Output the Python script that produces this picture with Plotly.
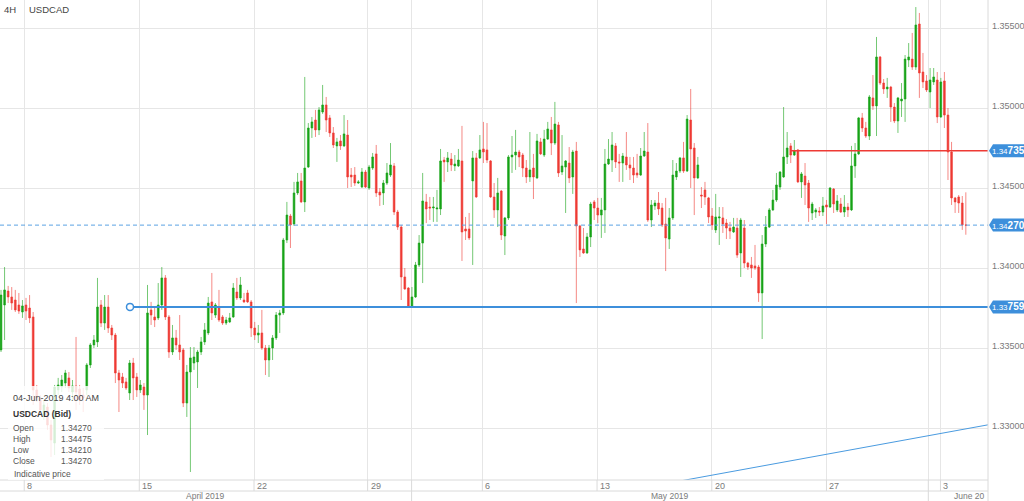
import plotly.graph_objects as go

# %%
# USDCAD 4H candles, 5 Apr - 4 Jun 2019
open_ = [
    1.33490, 1.33771, 1.33858, 1.33821, 1.33802, 1.33771, 1.33727, 1.33771, 1.33752, 1.33696,
    1.33240, 1.33190, 1.33083, 1.33133, 1.33021, 1.32908, 1.33240, 1.33258, 1.33283, 1.33315,
    1.33227, 1.33265, 1.33246, 1.33208, 1.33240, 1.33396, 1.33521, 1.33540, 1.33771, 1.33658,
    1.33758, 1.33627, 1.33583, 1.33346, 1.33321, 1.33290, 1.33221, 1.33408, 1.33321, 1.33240,
    1.33258, 1.33208, 1.33740, 1.33696, 1.33690, 1.33771, 1.33940, 1.33696, 1.33477, 1.33565,
    1.33521, 1.33490, 1.33158, 1.33352, 1.33408, 1.33415, 1.33477, 1.33540, 1.33596, 1.33790,
    1.33708, 1.33752, 1.33696, 1.33658, 1.33665, 1.33696, 1.33852, 1.33815, 1.33802, 1.33846,
    1.33790, 1.33627, 1.33583, 1.33596, 1.33502, 1.33427, 1.33502, 1.33565, 1.33708, 1.33721,
    1.34177, 1.34327, 1.34277, 1.34471, 1.34546, 1.34415, 1.34633, 1.34877, 1.34927, 1.34865,
    1.34977, 1.35021, 1.34940, 1.34846, 1.34765, 1.34796, 1.34765, 1.34833, 1.34583, 1.34583,
    1.34533, 1.34508, 1.34602, 1.34502, 1.34627, 1.34715, 1.34477, 1.34471, 1.34533, 1.34583,
    1.34640, 1.34352, 1.34258, 1.33946, 1.33877, 1.33758, 1.33821, 1.34021, 1.34158, 1.34415,
    1.34383, 1.34377, 1.34371, 1.34371, 1.34677, 1.34665, 1.34683, 1.34640, 1.34640, 1.34671,
    1.34246, 1.34246, 1.34546, 1.34690, 1.34690, 1.34746, 1.34740, 1.34671, 1.34446, 1.34365,
    1.34483, 1.34202, 1.34315, 1.34696, 1.34708, 1.34727, 1.34708, 1.34627, 1.34571, 1.34627,
    1.34565, 1.34790, 1.34708, 1.34808, 1.34865, 1.34783, 1.34896, 1.34602, 1.34633, 1.34658,
    1.34571, 1.34733, 1.34265, 1.34121, 1.34096, 1.34196, 1.34415, 1.34377, 1.34333, 1.34365,
    1.34652, 1.34677, 1.34765, 1.34665, 1.34658, 1.34696, 1.34646, 1.34627, 1.34596, 1.34583,
    1.34702, 1.34727, 1.34302, 1.34390, 1.34408, 1.34377, 1.34277, 1.34183, 1.34315, 1.34571,
    1.34608, 1.34690, 1.34608, 1.34927, 1.34752, 1.34565, 1.34458, 1.34490, 1.34440, 1.34327,
    1.34240, 1.34315, 1.34315, 1.34283, 1.34252, 1.34227, 1.34252, 1.34096, 1.34252, 1.34033,
    1.34021, 1.34015, 1.34008, 1.33846, 1.34152, 1.34258, 1.34365, 1.34427, 1.34508, 1.34571,
    1.34696, 1.34765, 1.34708, 1.34740, 1.34540, 1.34577, 1.34533, 1.34346, 1.34352, 1.34358,
    1.34352, 1.34396, 1.34383, 1.34496, 1.34365, 1.34402, 1.34352, 1.34383, 1.34365, 1.34640,
    1.34715, 1.34940, 1.34877, 1.34827, 1.35065, 1.35015, 1.35321, 1.35158, 1.35121, 1.35133,
    1.35008, 1.34921, 1.35046, 1.35058, 1.35302, 1.35308, 1.35258, 1.35527, 1.35227, 1.35171,
    1.35102, 1.35165, 1.35177, 1.34946, 1.35171, 1.34958, 1.34727, 1.34440, 1.34446, 1.34408,
    1.34270,
]
high = [
    1.33865, 1.34008, 1.33890, 1.33883, 1.33865, 1.33846, 1.33802, 1.33815, 1.33833, 1.33727,
    1.33271, 1.33208, 1.33177, 1.33158, 1.33052, 1.33271, 1.33315, 1.33333, 1.33365, 1.33352,
    1.33302, 1.33571, 1.33271, 1.33252, 1.33408, 1.33533, 1.33583, 1.33940, 1.33802, 1.33833,
    1.33833, 1.33646, 1.33596, 1.33365, 1.33346, 1.33315, 1.33427, 1.33440, 1.33346, 1.33302,
    1.33283, 1.33896, 1.33790, 1.33758, 1.33908, 1.34008, 1.33958, 1.33708, 1.33646, 1.33615,
    1.33708, 1.33502, 1.33396, 1.33508, 1.33508, 1.33490, 1.33571, 1.33658, 1.33821, 1.33971,
    1.33783, 1.33865, 1.33708, 1.33696, 1.33721, 1.33908, 1.33940, 1.33946, 1.33846, 1.33865,
    1.33802, 1.33665, 1.33646, 1.33740, 1.33521, 1.33521, 1.33583, 1.33727, 1.33740, 1.34190,
    1.34415, 1.34340, 1.34540, 1.34596, 1.34596, 1.35196, 1.34908, 1.34946, 1.34990, 1.35008,
    1.35146, 1.35071, 1.34958, 1.34883, 1.34815, 1.34833, 1.34958, 1.34927, 1.34627, 1.34633,
    1.34552, 1.34627, 1.34615, 1.34646, 1.34721, 1.34771, 1.34502, 1.34552, 1.34658, 1.34783,
    1.34658, 1.34365, 1.34271, 1.34002, 1.33883, 1.33883, 1.34040, 1.34208, 1.34596, 1.34465,
    1.34446, 1.34446, 1.34490, 1.34746, 1.34696, 1.34727, 1.34721, 1.34708, 1.34746, 1.34890,
    1.34321, 1.34346, 1.34733, 1.34721, 1.34833, 1.34915, 1.34908, 1.34677, 1.34533, 1.34565,
    1.34490, 1.34321, 1.34708, 1.34827, 1.34865, 1.34740, 1.34721, 1.34677, 1.34852, 1.34715,
    1.34840, 1.34815, 1.34865, 1.34915, 1.34946, 1.35040, 1.34915, 1.34833, 1.34677, 1.34758,
    1.34740, 1.34790, 1.34271, 1.34252, 1.34221, 1.34415, 1.34427, 1.34440, 1.34440, 1.34746,
    1.34808, 1.34852, 1.34783, 1.34715, 1.34721, 1.34852, 1.34696, 1.34696, 1.34715, 1.34752,
    1.34852, 1.34908, 1.34427, 1.34427, 1.34477, 1.34408, 1.34440, 1.34377, 1.34677, 1.34658,
    1.34696, 1.34790, 1.34958, 1.35121, 1.34783, 1.34696, 1.34508, 1.34540, 1.34446, 1.34377,
    1.34465, 1.34383, 1.34383, 1.34308, 1.34290, 1.34315, 1.34315, 1.34315, 1.34302, 1.34040,
    1.34071, 1.34146, 1.34021, 1.34208, 1.34327, 1.34377, 1.34490, 1.34596, 1.34608, 1.35008,
    1.34852, 1.34783, 1.34802, 1.34746, 1.34602, 1.34658, 1.34552, 1.34415, 1.34377, 1.34383,
    1.34446, 1.34427, 1.34508, 1.34502, 1.34458, 1.34440, 1.34458, 1.34408, 1.34765, 1.34783,
    1.34946, 1.34971, 1.34915, 1.35083, 1.35208, 1.35446, 1.35327, 1.35183, 1.35190, 1.35140,
    1.35033, 1.35071, 1.35158, 1.35333, 1.35408, 1.35471, 1.35633, 1.35596, 1.35346, 1.35208,
    1.35252, 1.35252, 1.35227, 1.35190, 1.35227, 1.35002, 1.34790, 1.34446, 1.34458, 1.34452,
    1.34475,
]
low = [
    1.33477, 1.33552, 1.33783, 1.33740, 1.33727, 1.33715, 1.33690, 1.33677, 1.33658, 1.33146,
    1.33165, 1.33083, 1.33052, 1.32990, 1.32821, 1.32833, 1.33208, 1.33227, 1.33252, 1.33227,
    1.33177, 1.33115, 1.33146, 1.33102, 1.33208, 1.33377, 1.33502, 1.33508, 1.33633, 1.33615,
    1.33596, 1.33552, 1.33283, 1.33102, 1.33252, 1.33240, 1.33177, 1.33177, 1.33196, 1.33221,
    1.33115, 1.32958, 1.33646, 1.33633, 1.33677, 1.33740, 1.33677, 1.33440, 1.33458, 1.33490,
    1.33427, 1.33133, 1.33071, 1.32727, 1.33365, 1.33252, 1.33458, 1.33521, 1.33583, 1.33677,
    1.33690, 1.33665, 1.33646, 1.33646, 1.33658, 1.33690, 1.33802, 1.33802, 1.33783, 1.33783,
    1.33571, 1.33552, 1.33533, 1.33490, 1.33333, 1.33321, 1.33427, 1.33552, 1.33596, 1.33708,
    1.34158, 1.34127, 1.34265, 1.34458, 1.34408, 1.34352, 1.34627, 1.34815, 1.34821, 1.34833,
    1.34965, 1.34852, 1.34821, 1.34752, 1.34665, 1.34740, 1.34758, 1.34502, 1.34508, 1.34515,
    1.34527, 1.34502, 1.34502, 1.34490, 1.34615, 1.34446, 1.34390, 1.34396, 1.34521, 1.34571,
    1.34333, 1.34240, 1.33802, 1.33865, 1.33752, 1.33752, 1.33815, 1.34008, 1.33908, 1.34283,
    1.34302, 1.34290, 1.34290, 1.34333, 1.34540, 1.34602, 1.34608, 1.34608, 1.34633, 1.34046,
    1.34177, 1.34177, 1.34021, 1.34440, 1.34683, 1.34658, 1.34658, 1.34440, 1.34315, 1.34258,
    1.34177, 1.34083, 1.34302, 1.34596, 1.34615, 1.34633, 1.34571, 1.34533, 1.34540, 1.34433,
    1.34558, 1.34708, 1.34696, 1.34802, 1.34708, 1.34771, 1.34571, 1.34583, 1.34346, 1.34533,
    1.34465, 1.33783, 1.34071, 1.34090, 1.34090, 1.34133, 1.34302, 1.34283, 1.34190, 1.34221,
    1.34646, 1.34602, 1.34627, 1.34540, 1.34540, 1.34615, 1.34552, 1.34533, 1.34565, 1.34577,
    1.34696, 1.34290, 1.34258, 1.34365, 1.34333, 1.34258, 1.33983, 1.34121, 1.34302, 1.34552,
    1.34596, 1.34596, 1.34602, 1.34502, 1.34333, 1.34558, 1.34377, 1.34396, 1.34283, 1.34240,
    1.34221, 1.34146, 1.34221, 1.34183, 1.34183, 1.34221, 1.34065, 1.33946, 1.34002, 1.33990,
    1.33940, 1.33990, 1.33790, 1.33558, 1.34133, 1.34252, 1.34358, 1.34415, 1.34490, 1.34565,
    1.34652, 1.34658, 1.34702, 1.34533, 1.34440, 1.34396, 1.34290, 1.34302, 1.34315, 1.34327,
    1.34327, 1.34277, 1.34377, 1.34346, 1.34352, 1.34346, 1.34321, 1.34321, 1.34358, 1.34565,
    1.34708, 1.34852, 1.34815, 1.34802, 1.34990, 1.34827, 1.35146, 1.35090, 1.35065, 1.34915,
    1.34908, 1.34846, 1.34946, 1.34915, 1.35258, 1.35240, 1.35240, 1.35065, 1.35127, 1.35102,
    1.35002, 1.35146, 1.34908, 1.34940, 1.34877, 1.34552, 1.34396, 1.34346, 1.34346, 1.34240,
    1.34210,
]
close = [
    1.33833, 1.33865, 1.33821, 1.33783, 1.33740, 1.33733, 1.33765, 1.33733, 1.33690, 1.33240,
    1.33190, 1.33115, 1.33146, 1.33021, 1.32927, 1.33258, 1.33271, 1.33302, 1.33346, 1.33252,
    1.33265, 1.33227, 1.33177, 1.33190, 1.33396, 1.33521, 1.33552, 1.33758, 1.33658, 1.33758,
    1.33627, 1.33583, 1.33346, 1.33302, 1.33283, 1.33252, 1.33408, 1.33315, 1.33240, 1.33271,
    1.33208, 1.33721, 1.33708, 1.33677, 1.33771, 1.33940, 1.33696, 1.33477, 1.33565, 1.33521,
    1.33477, 1.33158, 1.33352, 1.33440, 1.33446, 1.33477, 1.33540, 1.33615, 1.33783, 1.33721,
    1.33771, 1.33677, 1.33658, 1.33677, 1.33690, 1.33877, 1.33815, 1.33896, 1.33790, 1.33790,
    1.33627, 1.33583, 1.33596, 1.33502, 1.33427, 1.33502, 1.33565, 1.33708, 1.33721, 1.34177,
    1.34333, 1.34271, 1.34471, 1.34540, 1.34415, 1.34627, 1.34877, 1.34915, 1.34865, 1.34990,
    1.35021, 1.34927, 1.34846, 1.34771, 1.34790, 1.34765, 1.34840, 1.34571, 1.34571, 1.34533,
    1.34540, 1.34602, 1.34508, 1.34633, 1.34696, 1.34471, 1.34458, 1.34533, 1.34596, 1.34646,
    1.34352, 1.34258, 1.33946, 1.33871, 1.33758, 1.33821, 1.34021, 1.34158, 1.34421, 1.34371,
    1.34377, 1.34383, 1.34377, 1.34671, 1.34665, 1.34690, 1.34646, 1.34652, 1.34677, 1.34227,
    1.34233, 1.34190, 1.34690, 1.34446, 1.34740, 1.34727, 1.34677, 1.34446, 1.34365, 1.34471,
    1.34208, 1.34315, 1.34696, 1.34708, 1.34727, 1.34696, 1.34627, 1.34571, 1.34615, 1.34571,
    1.34796, 1.34715, 1.34808, 1.34871, 1.34783, 1.34902, 1.34596, 1.34640, 1.34671, 1.34565,
    1.34727, 1.34265, 1.34115, 1.34096, 1.34196, 1.34402, 1.34377, 1.34333, 1.34365, 1.34652,
    1.34683, 1.34771, 1.34665, 1.34658, 1.34702, 1.34646, 1.34627, 1.34583, 1.34583, 1.34702,
    1.34733, 1.34302, 1.34396, 1.34408, 1.34371, 1.34271, 1.34190, 1.34315, 1.34583, 1.34608,
    1.34690, 1.34608, 1.34933, 1.34746, 1.34565, 1.34646, 1.34452, 1.34446, 1.34321, 1.34271,
    1.34321, 1.34321, 1.34277, 1.34252, 1.34233, 1.34258, 1.34083, 1.34302, 1.34033, 1.34008,
    1.34002, 1.34002, 1.33846, 1.34152, 1.34258, 1.34365, 1.34427, 1.34521, 1.34602, 1.34696,
    1.34752, 1.34708, 1.34733, 1.34540, 1.34590, 1.34521, 1.34377, 1.34402, 1.34365, 1.34352,
    1.34390, 1.34383, 1.34502, 1.34402, 1.34421, 1.34352, 1.34383, 1.34365, 1.34640, 1.34715,
    1.34940, 1.34877, 1.34827, 1.35071, 1.35015, 1.35321, 1.35158, 1.35121, 1.35133, 1.35008,
    1.34921, 1.35065, 1.35058, 1.35308, 1.35321, 1.35258, 1.35521, 1.35221, 1.35165, 1.35115,
    1.35177, 1.35196, 1.34946, 1.35165, 1.34958, 1.34727, 1.34440, 1.34415, 1.34408, 1.34271,
    1.34270,
]
candle = list(range(len(close)))

# date axis: Monday ticks and month boundaries, in candle units
week_ticks = [-0.8, 6.5, 38.7, 70.8, 102.6, 134.7, 166.8, 198.9, 231.0, 262.9]
week_labels = ['5', '8', '15', '22', '29', '6', '13', '20', '27', '3']
month_bounds = [114.9, 259.5]
month_labels = ['April 2019', 'May 2019', 'June 20']

# drawings on the chart
support, support_from = 1.33759, 36.1
resistance, resistance_from = 1.34735, 220.8
last_price = 1.34270
trend_x = [180, 290]
trend_y = [1.32630, 1.33078]

info_title = '04-Jun-2019 4:00 AM'
info_rows = ['Open', 'High', 'Low', 'Close']
info_vals = ['1.34270', '1.34475', '1.34210', '1.34270']

# %%
W, H = 1024, 501
PLOT_W, PLOT_H = 988, 480
X_RANGE = [-0.28, 276.2]
Y_RANGE = [1.32677, 1.35677]

GRID = '#e6e6e6'
EDGE = '#dadada'
BLUE = '#3d8fdb'
RED = '#ee3a34'
GREEN = '#17a317'
LABEL = '#7a7a7a'
FONT = 'Arial, Liberation Sans, sans-serif'


def px(x):
    return x / PLOT_W


def py(y):
    return 1 - y / PLOT_H


fig = go.Figure()

fig.add_trace(
    go.Candlestick(
        x=candle, open=open_, high=high, low=low, close=close,
        increasing=dict(line=dict(color='rgba(23,163,23,0.6)', width=1), fillcolor=GREEN),
        decreasing=dict(line=dict(color='rgba(238,58,52,0.6)', width=1), fillcolor=RED),
        whiskerwidth=0,
        showlegend=False,
    )
)

# drawing lines
fig.add_trace(go.Scatter(
    x=[X_RANGE[0], X_RANGE[1]], y=[last_price, last_price], mode='lines',
    line=dict(color='#5aa3e3', width=1, dash='4px,3px'), showlegend=False, hoverinfo='skip'))
fig.add_trace(go.Scatter(
    x=[resistance_from, X_RANGE[1]], y=[resistance, resistance], mode='lines',
    line=dict(color=RED, width=1.5), showlegend=False, hoverinfo='skip'))
fig.add_trace(go.Scatter(
    x=[support_from, X_RANGE[1]], y=[support, support], mode='lines',
    line=dict(color=BLUE, width=2), showlegend=False, hoverinfo='skip'))
fig.add_trace(go.Scatter(
    x=trend_x, y=trend_y, mode='lines',
    line=dict(color='#4a9be0', width=1), showlegend=False, hoverinfo='skip'))
fig.add_trace(go.Scatter(
    x=[support_from], y=[support], mode='markers',
    marker=dict(size=7, color='white', line=dict(color=BLUE, width=1.5)),
    showlegend=False, hoverinfo='skip'))

shapes = []
annotations = []

# frame of the plot and the two date rows
tick_row = -11 / PLOT_H
bottom = -21 / PLOT_H
for y in [0, tick_row]:
    shapes.append(dict(type='line', xref='paper', yref='paper', x0=0, x1=1, y0=y, y1=y,
                       line=dict(color=EDGE, width=1)))
shapes.append(dict(type='line', xref='paper', yref='paper', x0=1, x1=1, y0=bottom, y1=1,
                   line=dict(color=EDGE, width=1)))
for t in week_ticks:
    shapes.append(dict(type='line', xref='x', yref='paper', x0=t, x1=t, y0=tick_row, y1=0,
                       line=dict(color=EDGE, width=1)))
for t in month_bounds:
    shapes.append(dict(type='line', xref='x', yref='paper', x0=t, x1=t, y0=bottom, y1=0,
                       line=dict(color=EDGE, width=1)))

for t, lab in zip(week_ticks, week_labels):
    annotations.append(dict(x=t, y=-5.5 / PLOT_H, xref='x', yref='paper', text=lab,
                            xanchor='left', yanchor='middle', xshift=1, showarrow=False,
                            font=dict(size=9, color=LABEL)))
edges = [X_RANGE[0]] + month_bounds
for i, lab in enumerate(month_labels[:2]):
    annotations.append(dict(x=(edges[i] + edges[i + 1]) / 2, y=-16 / PLOT_H,
                            xref='x', yref='paper', text=lab, xanchor='center',
                            yanchor='middle', showarrow=False,
                            font=dict(size=8.5, color=LABEL)))
annotations.append(dict(x=1, y=-16 / PLOT_H, xref='paper', yref='paper',
                        text=month_labels[2], xanchor='right', yanchor='middle',
                        xshift=-1, showarrow=False, font=dict(size=8.5, color=LABEL)))

# header
annotations.append(dict(x=px(2), y=py(9), xref='paper', yref='paper', text='4H',
                        xanchor='left', yanchor='middle', showarrow=False,
                        font=dict(size=9.5, color='#444444')))
annotations.append(dict(x=px(27), y=py(9), xref='paper', yref='paper', text='USDCAD',
                        xanchor='left', yanchor='middle', showarrow=False,
                        font=dict(size=9.5, color='#444444')))

# price tags on the right axis
half = 6.5 * (Y_RANGE[1] - Y_RANGE[0]) / PLOT_H
tip = px(5)
for level in [resistance, last_price, support]:
    s = f'{level:.5f}'
    path = (f'M {1 + tip},{level + half} L 1.06,{level + half} L 1.06,{level - half} '
            f'L {1 + tip},{level - half} L 1.001,{level} Z')
    shapes.append(dict(type='path', xref='paper', yref='y', path=path,
                       fillcolor=BLUE, line=dict(width=0), layer='above'))
    annotations.append(dict(
        x=1, y=level, xref='paper', yref='y', xanchor='left', yanchor='middle',
        xshift=2, showarrow=False,
        text=f"{s[:4]}<b><span style='font-size:10px'>{s[4:]}</span></b>",
        font=dict(size=8, color='white')))

# info box
shapes.append(dict(type='rect', xref='paper', yref='paper', x0=px(8), x1=px(104),
                   y0=py(480), y1=py(386), fillcolor='rgba(255,255,255,0.82)',
                   line=dict(width=0), layer='above'))
annotations.append(dict(x=px(11), y=py(398), xref='paper', yref='paper', text=info_title,
                        xanchor='left', yanchor='middle', showarrow=False,
                        font=dict(size=9, color='#444444')))
annotations.append(dict(x=px(11), y=py(414), xref='paper', yref='paper',
                        text='<b>USDCAD (Bid)</b>', xanchor='left', yanchor='middle',
                        showarrow=False, font=dict(size=8.5, color='#333333')))
for i, (name, val) in enumerate(zip(info_rows, info_vals)):
    y = py(428 + 11 * i)
    annotations.append(dict(x=px(11), y=y, xref='paper', yref='paper', text=name,
                            xanchor='left', yanchor='middle', showarrow=False,
                            font=dict(size=8.5, color='#555555')))
    annotations.append(dict(x=px(94), y=y, xref='paper', yref='paper', text=val,
                            xanchor='right', yanchor='middle', showarrow=False,
                            font=dict(size=8.5, color='#555555')))
annotations.append(dict(x=px(12), y=py(474), xref='paper', yref='paper',
                        text='Indicative price', xanchor='left', yanchor='middle',
                        showarrow=False, font=dict(size=8.5, color='#555555')))

fig.update_layout(
    width=W,
    height=H,
    margin=dict(l=0, r=W - PLOT_W, t=0, b=H - PLOT_H, autoexpand=False),
    paper_bgcolor='white',
    plot_bgcolor='white',
    font=dict(family=FONT),
    showlegend=False,
    xaxis=dict(
        range=X_RANGE,
        tickvals=week_ticks + month_bounds,
        showticklabels=False,
        showgrid=True,
        gridcolor=GRID,
        zeroline=False,
        showline=False,
        automargin=False,
        rangeslider=dict(visible=False),
        fixedrange=True,
    ),
    yaxis=dict(
        range=Y_RANGE,
        side='right',
        tick0=1.33,
        dtick=0.005,
        tickformat='.5f',
        showgrid=True,
        gridcolor=GRID,
        zeroline=False,
        ticks='',
        automargin=False,
        ticklabelstandoff=3,
        ticklabelshift=-2,
        tickfont=dict(size=9, color=LABEL),
        fixedrange=True,
    ),
    shapes=shapes,
    annotations=annotations,
)

# the page's default 8px body margin would shift the chart; drop it
fig.write_html(
    "out.html",
    config={'displayModeBar': False},
    post_script="document.body.style.margin = '0px';",
)
